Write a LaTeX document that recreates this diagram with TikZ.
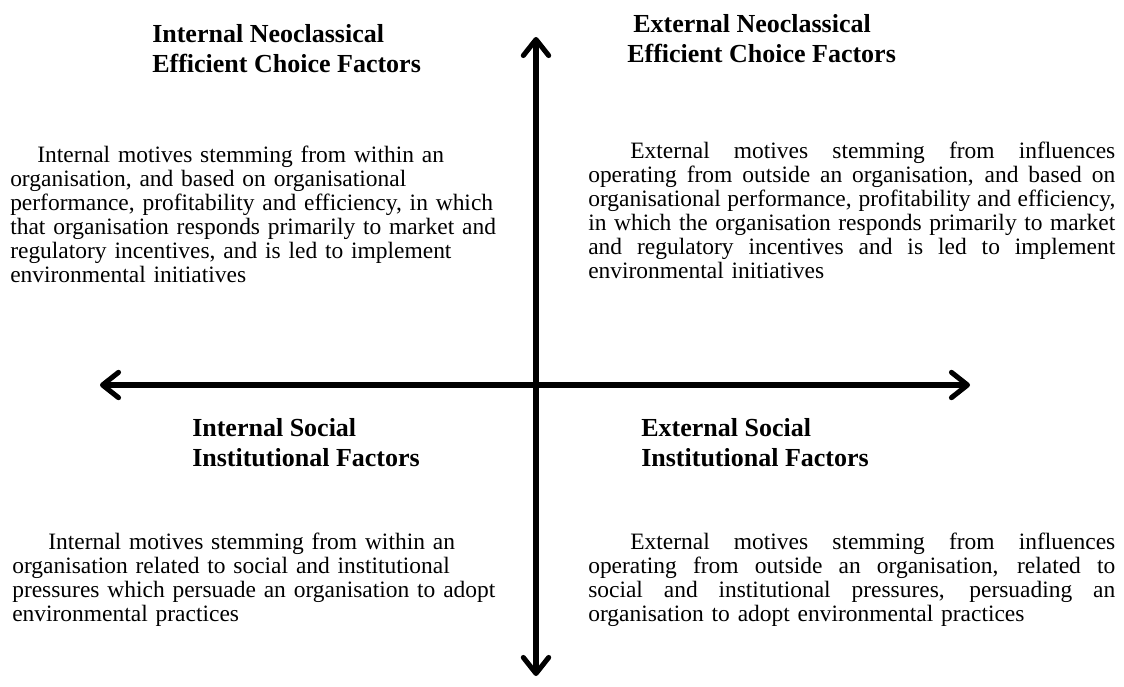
\documentclass[tikz,border=0pt]{standalone}
\usepackage{fontspec}
\setmainfont{Liberation Serif}
\usetikzlibrary{arrows.meta}

% width of the justified paragraphs on the right-hand side
\newlength\jcol
\setlength\jcol{395.25pt}
% one justified line: the word spaces share out the free room
\newcommand\spreadline[2]{\makebox[#1][s]{\spaceskip=\fontdimen2\font plus 1fil\relax#2}}
\newcommand\fullline[1]{\spreadline{\jcol}{#1}}
\newcommand\fullindent[2]{\hspace*{#1}\spreadline{\dimexpr\jcol-#1\relax}{#2}}

\begin{document}
\begin{tikzpicture}[x=0.75pt,y=-0.75pt,
  barb/.tip={Straight Barb[length=12pt,width=19pt,line cap=round,line join=round]},
  axis/.style={line width=3.8pt,barb-barb},
  heading/.style={anchor=north west,inner sep=0pt,align=left,
    font=\bfseries\fontsize{19.5}{22.5}\selectfont},
  body/.style={anchor=north west,inner sep=0pt,align=left,
    font=\fontsize{17.6}{18}\selectfont},
  ragged/.style={body,text width=400pt},
  justified/.style={body,text width=\jcol}]

\useasboundingbox (0,0) rectangle (1124,686);

% axes
\coordinate (top) at (536,37);
\coordinate (bottom) at (536,676);
\coordinate (left) at (100,385);
\coordinate (right) at (970,385);
\draw[axis] (bottom) -- (top);
\draw[axis] (left) -- (right);

% upper left quadrant
\node[heading] (tlhead) at (152,24.4) {Internal Neoclassical\\Efficient Choice Factors};
\node[ragged] (tlbody) at (10,146) {%
\hspace*{20.25pt}Internal motives stemming from within an\\
organisation, and based on organisational\\
performance, profitability and efficiency, in which\\
that organisation responds primarily to market and\\
regulatory incentives, and is led to implement\\
environmental initiatives};

% upper right quadrant
\node[heading] (trhead) at (627,14.4) {\hspace*{4.5pt}External Neoclassical\\Efficient Choice Factors};
\node[justified] (trbody) at (588,142) {%
\fullindent{31.5pt}{External motives stemming from influences}\\
\fullline{operating from outside an organisation, and based on}\\
\fullline{organisational performance, profitability and efficiency,}\\
\fullline{in which the organisation responds primarily to market}\\
\fullline{and regulatory incentives and is led to implement}\\
environmental initiatives};

% lower left quadrant
\node[heading] (blhead) at (192,418.4) {Internal Social\\Institutional Factors};
\node[ragged] (blbody) at (12,533) {%
\hspace*{27pt}Internal motives stemming from within an\\
organisation related to social and institutional\\
pressures which persuade an organisation to adopt\\
environmental practices};

% lower right quadrant
\node[heading] (brhead) at (641,418.4) {External Social\\Institutional Factors};
\node[justified] (brbody) at (588,533) {%
\fullindent{31.5pt}{External motives stemming from influences}\\
\fullline{operating from outside an organisation, related to}\\
\fullline{social and institutional pressures, persuading an}\\
organisation to adopt environmental practices};

\end{tikzpicture}
\end{document}
